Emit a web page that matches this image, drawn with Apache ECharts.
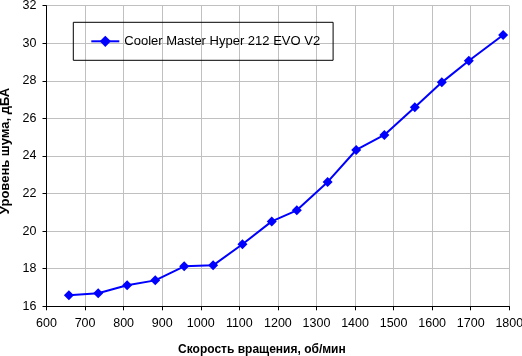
<!DOCTYPE html>
<html><head><meta charset="utf-8">
<script src="https://cdn.jsdelivr.net/npm/echarts@6/dist/echarts.min.js"></script>
<style>html,body{margin:0;padding:0;background:#fff}#c{width:522px;height:356px}</style>
</head><body><div id="c"></div>
<script>
const seriesName = "Cooler Master Hyper 212 EVO V2";
const rpm = [658, 734, 809, 882, 957, 1032, 1108, 1184, 1249, 1329, 1403, 1476, 1555, 1625, 1695, 1784];
const noise = [16.59, 16.69, 17.12, 17.38, 18.13, 18.18, 19.30, 20.52, 21.11, 22.62, 24.32, 25.12, 26.59, 27.92, 29.07, 30.44];
const xTitle = "Скорость вращения, об/мин";
const yTitle = "Уровень шума, дБА";

const font = "Arial, 'Liberation Sans', sans-serif";
const chart = echarts.init(document.getElementById('c'), null, {renderer: 'canvas'});
chart.setOption({
  animation: false,
  backgroundColor: '#fff',
  grid: {left: 46.5, right: 12.7, top: 5.7, bottom: 49.7, containLabel: false, outerBoundsMode: 'none'},
  legend: {
    left: 73.3, top: 22.3,
    orient: 'horizontal',
    padding: [12.5, 13, 12.5, 17],
    borderColor: '#000', borderWidth: 1,
    itemWidth: 28, itemHeight: 14, itemGap: 4,
    textStyle: {fontFamily: font, fontSize: 13, color: '#000'},
    data: [{name: seriesName}]
  },
  xAxis: {
    type: 'value', min: 600, max: 1800, interval: 100,
    name: xTitle, nameLocation: 'middle', nameGap: 37,
    nameTextStyle: {fontFamily: font, fontSize: 12, fontWeight: 'bold', color: '#000', padding: [0, 32, 0, 0]},
    axisLine: {show: true, onZero: false, lineStyle: {color: '#000', width: 1}},
    axisTick: {show: true, length: 4, lineStyle: {color: '#000'}},
    axisLabel: {fontFamily: font, fontSize: 12.5, color: '#000', margin: 11, formatter: v => String(v)},
    splitLine: {show: true, lineStyle: {color: '#c0c0c0', width: 1}}
  },
  yAxis: {
    type: 'value', min: 16, max: 32, interval: 2,
    name: yTitle, nameLocation: 'middle', nameGap: 33, nameRotate: 90,
    nameTextStyle: {fontFamily: font, fontSize: 13, fontWeight: 'bold', color: '#000', padding: [0, 0, 0, 10]},
    axisLine: {show: true, onZero: false, lineStyle: {color: '#000', width: 1}},
    axisTick: {show: true, length: 4, lineStyle: {color: '#000'}},
    axisLabel: {fontFamily: font, fontSize: 12.5, color: '#000', margin: 10, formatter: v => String(v)},
    splitLine: {show: true, lineStyle: {color: '#c0c0c0', width: 1}}
  },
  series: [{
    name: seriesName,
    type: 'line',
    data: rpm.map((x, i) => [x, noise[i]]),
    symbol: 'diamond', symbolSize: 10,
    lineStyle: {color: '#0000ff', width: 2},
    itemStyle: {color: '#0000ff'},
    z: 5
  }]
});
</script></body></html>
